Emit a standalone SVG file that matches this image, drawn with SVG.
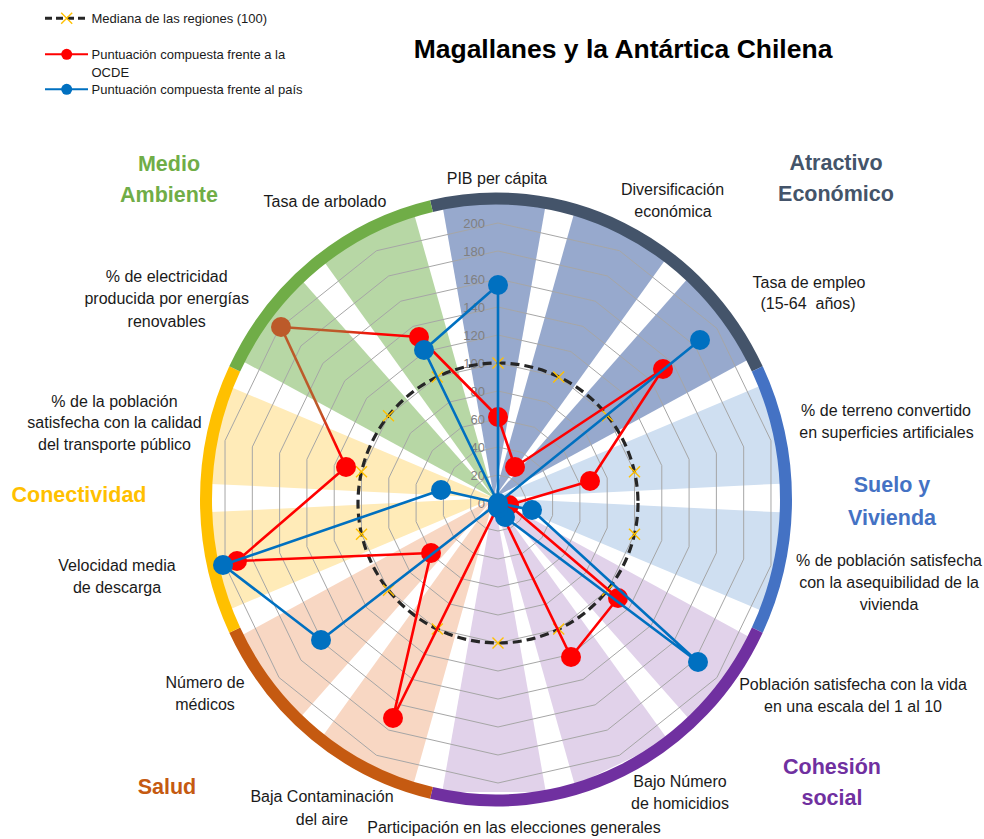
<svg xmlns="http://www.w3.org/2000/svg" xmlns:xlink="http://www.w3.org/1999/xlink" width="984" height="839" viewBox="0 0 984 839">
<style>
text{font-family:"Liberation Sans",Arial,sans-serif}
.ax{font-size:16px;fill:#1a1a1a;text-anchor:middle}
.cat{font-size:21.5px;font-weight:bold;text-anchor:middle}
.num{font-size:13px;fill:#808080;text-anchor:end}
.leg{font-size:13px;fill:#1a1a1a}
.grid{fill:none;stroke:#a6a6a6;stroke-width:1;vector-effect:non-scaling-stroke}
.ring{fill:none;stroke-width:12}
.red{fill:none;stroke:#ff0000;stroke-width:2.6;stroke-linejoin:round}
.blue{fill:none;stroke:#0070c0;stroke-width:2.6;stroke-linejoin:round}
.rdot{fill:#ff0000}
.bdot{fill:#0070c0}
.xm{fill:none;stroke:#ffc000;stroke-width:1.4}
.med{fill:none;stroke:#262626;stroke-width:3.2;stroke-dasharray:9 5}
</style>
<defs>
<clipPath id="inner"><ellipse cx="496" cy="499.5" rx="285" ry="296"/></clipPath>
<polygon id="gp" class="grid" points="0,-28 12.149,-25.227 21.891,-17.458 27.298,-6.231 27.298,6.231 21.891,17.458 12.149,25.227 0,28 -12.149,25.227 -21.891,17.458 -27.298,6.231 -27.298,-6.231 -21.891,-17.458 -12.149,-25.227"/>
<path id="xmark" class="xm" d="M-5.5,-5.5 L5.5,5.5 M-5.5,5.5 L5.5,-5.5"/>
<linearGradient id="gArb" gradientUnits="userSpaceOnUse" x1="281" y1="327" x2="419" y2="337">
<stop offset="0" stop-color="#bc5a2a"/><stop offset="0.42" stop-color="#bc5a2a"/><stop offset="0.7" stop-color="#ff0000"/><stop offset="1" stop-color="#ff0000"/>
</linearGradient>
<linearGradient id="gTra" gradientUnits="userSpaceOnUse" x1="281" y1="327" x2="346" y2="467">
<stop offset="0" stop-color="#bc5a2a"/><stop offset="0.6" stop-color="#bc5a2a"/><stop offset="0.85" stop-color="#ff0000"/><stop offset="1" stop-color="#ff0000"/>
</linearGradient>
</defs>
<rect width="984" height="839" fill="#ffffff"/>

<g id="wedges" clip-path="url(#inner)">
<polygon fill="#97a9cd" points="494,498 442.17,204.03 545.83,204.03"/>
<polygon fill="#97a9cd" points="494,498 574.85,210.65 668.24,255.63"/>
<polygon fill="#97a9cd" points="494,498 691.51,274.18 756.15,355.24"/>
<polygon fill="#cfdff1" points="494,498 769.06,382.05 792.13,483.12"/>
<polygon fill="#cfdff1" points="494,498 792.13,512.88 769.06,613.95"/>
<polygon fill="#e1d2ea" points="494,498 756.15,640.76 691.51,721.82"/>
<polygon fill="#e1d2ea" points="494,498 668.24,740.37 574.85,785.35"/>
<polygon fill="#e1d2ea" points="494,498 545.83,791.97 442.17,791.97"/>
<polygon fill="#f8d7c3" points="494,498 413.15,785.35 319.76,740.37"/>
<polygon fill="#f8d7c3" points="494,498 296.49,721.82 231.85,640.76"/>
<polygon fill="#ffebb8" points="494,498 218.94,613.95 195.87,512.88"/>
<polygon fill="#ffebb8" points="494,498 195.87,483.12 218.94,382.05"/>
<polygon fill="#b7d7a5" points="494,498 231.85,355.24 296.49,274.18"/>
<polygon fill="#b7d7a5" points="494,498 319.76,255.63 413.15,210.65"/>
</g>

<g id="ring">
<path class="ring" stroke="#44546a" d="M431.47,206.05 A290,301 0 0 1 757.28,368.90"/>
<path class="ring" stroke="#4472c4" d="M757.28,368.90 A290,301 0 0 1 757.28,630.10"/>
<path class="ring" stroke="#7030a0" d="M757.28,630.10 A290,301 0 0 1 431.47,792.95"/>
<path class="ring" stroke="#c55a11" d="M431.47,792.95 A290,301 0 0 1 234.72,630.10"/>
<path class="ring" stroke="#ffc000" d="M234.72,630.10 A290,301 0 0 1 234.72,368.90"/>
<path class="ring" stroke="#70ad47" d="M234.72,368.90 A290,301 0 0 1 431.47,206.05"/>
</g>

<g id="grid">
<use xlink:href="#gp" transform="translate(498 503) scale(1)"/>
<use xlink:href="#gp" transform="translate(498 503) scale(2)"/>
<use xlink:href="#gp" transform="translate(498 503) scale(3)"/>
<use xlink:href="#gp" transform="translate(498 503) scale(4)"/>
<use xlink:href="#gp" transform="translate(498 503) scale(5)"/>
<use xlink:href="#gp" transform="translate(498 503) scale(6)"/>
<use xlink:href="#gp" transform="translate(498 503) scale(7)"/>
<use xlink:href="#gp" transform="translate(498 503) scale(8)"/>
<use xlink:href="#gp" transform="translate(498 503) scale(9)"/>
<use xlink:href="#gp" transform="translate(498 503) scale(10)"/>
</g>

<g id="scale">
<text class="num" x="485" y="507.6">0</text>
<text class="num" x="485" y="479.6">20</text>
<text class="num" x="485" y="451.6">40</text>
<text class="num" x="485" y="423.6">60</text>
<text class="num" x="485" y="395.6">80</text>
<text class="num" x="485" y="367.6">100</text>
<text class="num" x="485" y="339.6">120</text>
<text class="num" x="485" y="311.6">140</text>
<text class="num" x="485" y="283.6">160</text>
<text class="num" x="485" y="255.6">180</text>
<text class="num" x="485" y="227.6">200</text>
</g>

<g id="title"><text x="623" y="58" font-size="26.5" font-weight="bold" text-anchor="middle" fill="#000">Magallanes y la Antártica Chilena</text></g>

<g id="legend">
<line x1="45" y1="18.3" x2="88" y2="18.3" stroke="#262626" stroke-width="3" stroke-dasharray="7 4"/>
<use xlink:href="#xmark" x="66.7" y="18.3"/>
<text class="leg" x="91.5" y="23">Mediana de las regiones (100)</text>
<line x1="45" y1="54.3" x2="88" y2="54.3" stroke="#ff0000" stroke-width="2"/>
<circle class="rdot" cx="66.7" cy="54.3" r="5.5"/>
<text class="leg" x="91.5" y="59">Puntuación compuesta frente a la</text>
<text class="leg" x="91.5" y="76.5">OCDE</text>
<line x1="45" y1="89.3" x2="88" y2="89.3" stroke="#0070c0" stroke-width="2"/>
<circle class="bdot" cx="66.7" cy="89.3" r="5.5"/>
<text class="leg" x="91.5" y="94">Puntuación compuesta frente al país</text>
</g>

<g id="categories">
<g id="cat-medio"><text class="cat" fill="#70ad47" x="169" y="170.5">Medio</text><text class="cat" fill="#70ad47" x="169" y="202">Ambiente</text></g>
<g id="cat-atractivo"><text class="cat" fill="#44546a" x="836" y="170">Atractivo</text><text class="cat" fill="#44546a" x="836" y="201">Económico</text></g>
<g id="cat-suelo"><text class="cat" fill="#4472c4" x="892" y="492">Suelo y</text><text class="cat" fill="#4472c4" x="892" y="525">Vivienda</text></g>
<g id="cat-cohesion"><text class="cat" fill="#7030a0" x="832" y="774">Cohesión</text><text class="cat" fill="#7030a0" x="832" y="805">social</text></g>
<g id="cat-salud"><text class="cat" fill="#c55a11" x="167" y="794">Salud</text></g>
<g id="cat-conect"><text class="cat" fill="#ffc000" x="79" y="502">Conectividad</text></g>
</g>

<g id="axis-labels">
<g id="ax-pib"><text class="ax" x="497" y="184">PIB per cápita</text></g>
<g id="ax-div"><text class="ax" x="672.5" y="195">Diversificación</text><text class="ax" x="673" y="217">económica</text></g>
<g id="ax-emp"><text class="ax" x="809" y="288">Tasa de empleo</text><text class="ax" x="808" y="309" xml:space="preserve">(15-64  años)</text></g>
<g id="ax-ter"><text class="ax" x="886" y="416">% de terreno convertido</text><text class="ax" x="886.5" y="438">en superficies artificiales</text></g>
<g id="ax-ase"><text class="ax" x="889" y="566">% de población satisfecha</text><text class="ax" x="889" y="588">con la asequibilidad de la</text><text class="ax" x="889" y="610">vivienda</text></g>
<g id="ax-vida"><text class="ax" x="853" y="690">Población satisfecha con la vida</text><text class="ax" x="853" y="712">en una escala del 1 al 10</text></g>
<g id="ax-hom"><text class="ax" x="680" y="787">Bajo Número</text><text class="ax" x="680" y="809">de homicidios</text></g>
<g id="ax-elec"><text class="ax" x="514" y="833">Participación en las elecciones generales</text></g>
<g id="ax-aire"><text class="ax" x="322" y="802">Baja Contaminación</text><text class="ax" x="322" y="825">del aire</text></g>
<g id="ax-med"><text class="ax" x="205" y="688">Número de</text><text class="ax" x="205" y="710">médicos</text></g>
<g id="ax-vel"><text class="ax" x="117" y="571">Velocidad media</text><text class="ax" x="117" y="593">de descarga</text></g>
<g id="ax-tra"><text class="ax" x="114.5" y="406.5">% de la población</text><text class="ax" x="114.5" y="428">satisfecha con la calidad</text><text class="ax" x="114.5" y="449.5">del transporte público</text></g>
<g id="ax-ele"><text class="ax" x="166.7" y="281.5">% de electricidad</text><text class="ax" x="166.7" y="304">producida por energías</text><text class="ax" x="166.7" y="326.5">renovables</text></g>
<g id="ax-arb"><text class="ax" x="325" y="206.5">Tasa de arbolado</text></g>
</g>

<g id="connectors">
<g id="median">
<circle class="med" cx="498" cy="503" r="140"/>
<use xlink:href="#xmark" x="498" y="363"/>
<use xlink:href="#xmark" x="558.7" y="376.9"/>
<use xlink:href="#xmark" x="607.5" y="415.7"/>
<use xlink:href="#xmark" x="634.5" y="471.8"/>
<use xlink:href="#xmark" x="634.5" y="534.2"/>
<use xlink:href="#xmark" x="607.5" y="590.3"/>
<use xlink:href="#xmark" x="558.7" y="629.1"/>
<use xlink:href="#xmark" x="498" y="643"/>
<use xlink:href="#xmark" x="437.3" y="629.1"/>
<use xlink:href="#xmark" x="388.5" y="590.3"/>
<use xlink:href="#xmark" x="361.5" y="534.2"/>
<use xlink:href="#xmark" x="361.5" y="471.8"/>
<use xlink:href="#xmark" x="388.5" y="415.7"/>
<use xlink:href="#xmark" x="437.3" y="376.9"/>
</g>
<g id="ocde">
<polyline class="red" points="419,337 498,417 515,467 663,369 590,481 509,505 618,598 571,657 498,506 393,718 431,553 237,561 346,467"/>
<line x1="281" y1="327" x2="346" y2="467" stroke="url(#gTra)" stroke-width="2.6"/>
<line x1="281" y1="327" x2="419" y2="337" stroke="url(#gArb)" stroke-width="2.6"/>
<circle class="rdot" cx="498" cy="417" r="10"/>
<circle class="rdot" cx="515" cy="467" r="10"/>
<circle class="rdot" cx="663" cy="369" r="10"/>
<circle class="rdot" cx="590" cy="481" r="10"/>
<circle class="rdot" cx="509" cy="505" r="10"/>
<circle class="rdot" cx="618" cy="598" r="10"/>
<circle class="rdot" cx="571" cy="657" r="10"/>
<circle class="rdot" cx="498" cy="506" r="10"/>
<circle class="rdot" cx="393" cy="718" r="10"/>
<circle class="rdot" cx="431" cy="553" r="10"/>
<circle class="rdot" cx="237" cy="561" r="10"/>
<circle class="rdot" cx="346" cy="467" r="10"/>
<circle cx="281" cy="327" r="10" fill="#bc5a2a"/>
<circle class="rdot" cx="419" cy="337" r="10"/>
</g>
<g id="pais">
<polygon class="blue" points="498,285 498,503 700,340 498,503 532,510 698,662 505,517 498,508 498,503 321,640 223,565 441,490 498,503 424,350"/>
<circle class="bdot" cx="498" cy="285" r="10"/>
<circle class="bdot" cx="700" cy="340" r="10"/>
<circle class="bdot" cx="532" cy="510" r="10"/>
<circle class="bdot" cx="698" cy="662" r="10"/>
<circle class="bdot" cx="505" cy="517" r="10"/>
<circle class="bdot" cx="498" cy="508" r="10"/>
<circle class="bdot" cx="498" cy="503" r="10"/>
<circle class="bdot" cx="321" cy="640" r="10"/>
<circle class="bdot" cx="223" cy="565" r="10"/>
<circle class="bdot" cx="441" cy="490" r="10"/>
<circle class="bdot" cx="424" cy="350" r="10"/>
</g>
</g>
</svg>
